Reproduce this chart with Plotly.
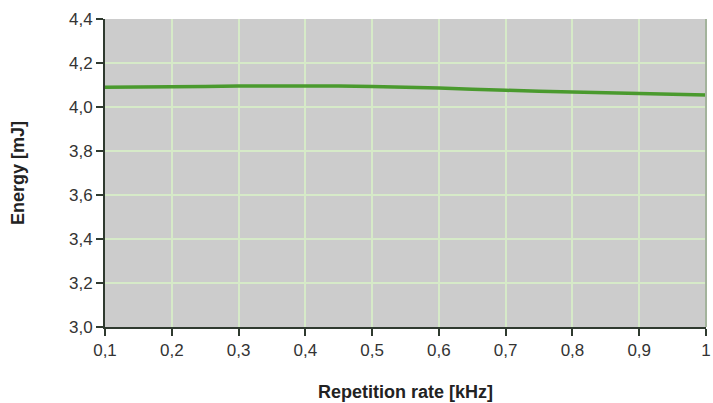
import plotly.graph_objects as go

rate_khz = [0.1, 0.2, 0.3, 0.4, 0.5, 0.6, 0.7, 0.8, 0.9, 1.0]
energy_mj = [4.090, 4.092, 4.095, 4.096, 4.093, 4.086, 4.076, 4.068, 4.061, 4.054]

x_ticks = [0.1, 0.2, 0.3, 0.4, 0.5, 0.6, 0.7, 0.8, 0.9, 1.0]
x_labels = ["0,1", "0,2", "0,3", "0,4", "0,5", "0,6", "0,7", "0,8", "0,9", "1"]
y_ticks = [3.0, 3.2, 3.4, 3.6, 3.8, 4.0, 4.2, 4.4]
y_labels = ["3,0", "3,2", "3,4", "3,6", "3,8", "4,0", "4,2", "4,4"]

fam = "Liberation Sans, Arial, sans-serif"
tick_font = dict(family=fam, size=17, color="#333333")
title_font = dict(family=fam, size=18, color="#222222")

fig = go.Figure()
fig.add_trace(go.Scatter(
    x=rate_khz, y=energy_mj, mode="lines",
    line=dict(color="#4A9A2E", width=3.5, shape="spline", smoothing=0.8),
    showlegend=False, cliponaxis=True,
))

fig.add_shape(type="line", xref="paper", yref="paper", x0=1, x1=1, y0=0, y1=1,
              line=dict(color="#A3B39C", width=2), layer="above")

fig.update_layout(
    width=713, height=403,
    margin=dict(l=105, r=2, t=19, b=76),
    paper_bgcolor="white",
    plot_bgcolor="#CCCCCC",
    font=tick_font,
    xaxis=dict(
        range=[0.1, 1.0], tickvals=x_ticks, ticktext=x_labels,
        showgrid=True, gridcolor="#D6EAC8", gridwidth=2,
        showline=True, linecolor="#2F3A2F", linewidth=2,
        ticks="outside", ticklen=7, tickcolor="#2F3A2F", tickwidth=2,
        ticklabeloverflow="allow",
        tickfont=tick_font,
        zeroline=False,
        title=dict(text="<b>Repetition rate [kHz]</b>", standoff=26, font=title_font),
    ),
    yaxis=dict(
        range=[3.0, 4.4], tickvals=y_ticks, ticktext=y_labels,
        showgrid=True, gridcolor="#D6EAC8", gridwidth=2,
        showline=True, linecolor="#2F3A2F", linewidth=2,
        ticks="outside", ticklen=7, tickcolor="#2F3A2F", tickwidth=2,
        tickfont=tick_font,
        zeroline=False,
        title=dict(text="<b>Energy [mJ]</b>", standoff=40, font=title_font),
    ),
)

fig.write_html("out.html")
